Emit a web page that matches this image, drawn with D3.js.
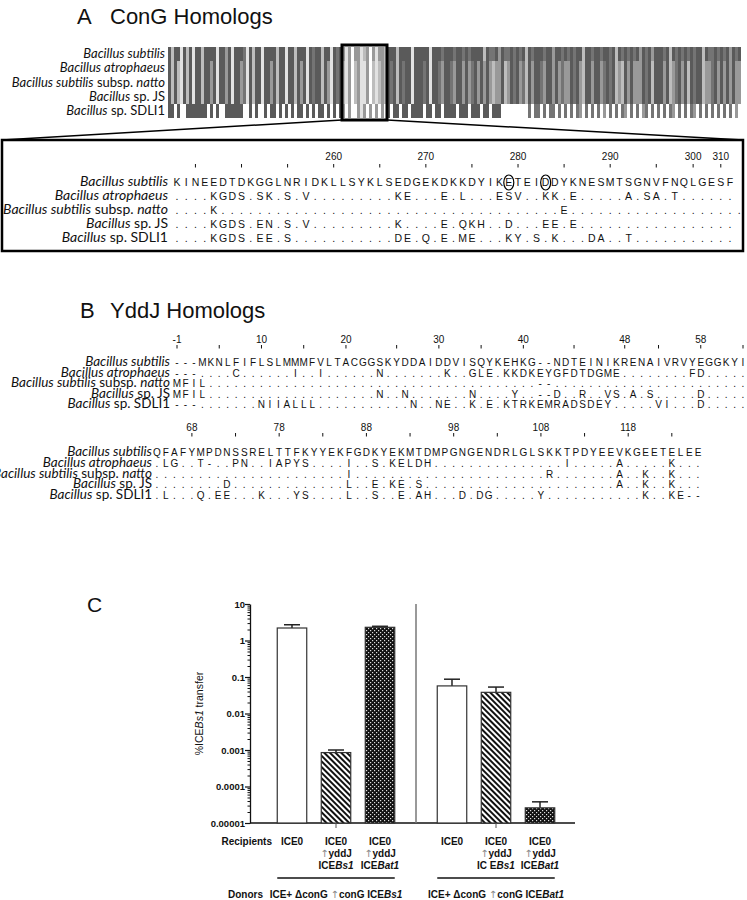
<!DOCTYPE html>
<html>
<head>
<meta charset="utf-8">
<script src="https://cdn.jsdelivr.net/npm/d3@7"></script>
<style>
body { margin: 0; background: #fff; }
text { font-family: "Liberation Sans", Arial, sans-serif; fill: #111; }
.lab { font-family: Lato, "Noto Sans", sans-serif; white-space: pre; }
.seq { font-size: 10px; text-anchor: middle; }
.num { font-size: 10px; text-anchor: middle; }
.ctext { font-size: 10px; font-weight: bold; white-space: pre; }
</style>
</head>
<body>
<div id="chart"></div>
<script>

var width = 747
var height = 900

// species names, [text, italic]
var species = [
  [["Bacillus subtilis", 1]],
  [["Bacillus atrophaeus", 1]],
  [["Bacillus subtilis", 1], [" subsp. ", 0], ["natto", 1]],
  [["Bacillus", 1], [" sp. JS", 0]],
  [["Bacillus", 1], [" sp. SDLI1", 0]]
];

// ConG overview barcode, one char per column, 0 = white .. 5 = dark grey
var barcodeSubtilis = ["5255152515","5255551553","5155541525","5155552551","5525551545","52551545",
  "313033123031332",
  "5552555515","5555155545","5545545455","5525445354","4545452545","5545535545","4545525545",
  "5455452545","4545354535","5545254545","4545525445","45453545"].join("");
var barcodeMiddle = ["5252152515","5255351553","5155341525","5155352551","5525351545","52531545",
  "213023113021232",
  "5452545515","5545155435","5435535345","3535323352","3545342535","5435535343","3545325535",
  "5345452325","3533354525","5535234535","2545523345","35353533"].join("");
var barcodeSDLI1 = ["5505005555","5550505005","5555500505","0050550505","0505505050","55050505",
  "303003130303030",
  "5055055055","5505505505","5550555055","5055055500","0000000404","4040440404","0404304040",
  "4030404043","0404034040","4040430404","0430404040","40404030"].join("");
var zoomStart = 58, zoomEnd = 73;   // columns inside the black box

// ConG zoomed alignment
var congSeqs = [
  "KINEEDTDKGGLNRIDKLLSYKLSEDGEKDKKDYIKETEIDDYKNESMTSGNVFNQLGESF",
  "....KGDS.SK.S.V.........KE...E.L...ESV..KK.E.....A.SA.T......",
  "....K.....................................E...................",
  "....KGDS.EN.S.V.........K....E.QKH..D...EE.E.................",
  "....KGDS.EE.S...........DE.Q.E.ME...KY.S.K...DA..T..........."
];
var congTickLabels = ["260", "270", "280", "290", "300", "310"];
var congTickCols = [18, 28, 38, 48, 57, 60];
var congMinorCols = [3, 8, 13, 23, 33, 43, 53];
var congCircled = [37, 41];

// YddJ alignment, first block
var yddjSeqs1 = [
  "---MKNLFIFLSLMMMFVLTACGGSKYDDAIDDVISQYKEHKG--NDTEINIKRENAIVRVYEGGKYI",
  "---....C......I..I......N.......K..GLE.KKDKEYGFDTDGME........FD.....",
  "MFIL.......................................--.......................",
  "MFIL....................N..N.......N....Y..--D..R..VS.A.S.....D.....",
  "---.......NIIALLL...........N..NE..K.E.KTRKEMRADSDEY.....VI...D....."
];
var yddjTickLabels1 = ["-1", "10", "20", "30", "40", "48", "58"];
var yddjTickCols1 = [1, 11, 21, 32, 42, 54, 63];
var yddjMinorCols1 = [6, 16, 27, 37, 48, 58, 68];

// YddJ alignment, second block
var yddjSeqs2 = [
  "QFAFYMPDNSSRELTTFKYYEKFGDKYEKMTDMPGNGENDRLGLSKKTPDYEEVKGEETELEE",
  ".LG..T-..PN..IAPYS....I..S.KELDH...............I.....A.....K...",
  "......................I......................R.......A..K..K...",
  "........D.............L..E.KE.S......................A..K..K...",
  ".L...Q.EE...K...YS....L..S..E.AH...D.DG.....Y...........K..KE--"
];
var yddjTickLabels2 = ["68", "78", "88", "98", "108", "118"];
var yddjTickCols2 = [5, 15, 25, 35, 45, 55];
var yddjMinorCols2 = [10, 20, 30, 40, 50, 60];

// panel C: % ICEBs1 transfer
var donors = ["ICE+ \u0394conG \u2191conG ICE*Bs1*", "ICE+ \u0394conG \u2191conG ICE*Bat1*"];
var recipients = ["ICE0", "ICE0|\u2191yddJ|ICE*Bs1*", "ICE0|\u2191yddJ|ICE*Bat1*",
                  "ICE0", "ICE0|\u2191yddJ|IC E*Bs1*", "ICE0|\u2191yddJ|ICE*Bat1*"];
var transferMean = [2.2, 0.00085, 2.3, 0.057, 0.038, 0.000026];
var transferSem = [0.5, 0.00015, 0.15, 0.03, 0.015, 0.000012];
var barFill = ["url(#open)", "url(#hatch)", "url(#dots)", "url(#open)", "url(#hatch)", "url(#dots)"];
var yTicks = [1e-5, 1e-4, 1e-3, 1e-2, 1e-1, 1, 10];
var yTickLabels = ["0.00001", "0.0001", "0.001", "0.01", "0.1", "1", "10"];

var grays = { "0": "#ffffff", "1": "#e2e2e2", "2": "#bdbdbd", "3": "#999999", "4": "#747474", "5": "#5a5a5a" };

var svg = d3.select("#chart").append("svg")
    .attr("width", width)
    .attr("height", height);

var defs = svg.append("defs");
defs.append("pattern").attr("id", "open").attr("width", 4).attr("height", 4)
    .attr("patternUnits", "userSpaceOnUse")
  .append("rect").attr("width", 4).attr("height", 4).attr("fill", "#fff");
var hatch = defs.append("pattern").attr("id", "hatch").attr("width", 4).attr("height", 4)
    .attr("patternUnits", "userSpaceOnUse").attr("patternTransform", "rotate(-45)");
hatch.append("rect").attr("width", 4).attr("height", 4).attr("fill", "#fff");
hatch.append("rect").attr("width", 2).attr("height", 4).attr("fill", "#111");
var dots = defs.append("pattern").attr("id", "dots").attr("width", 4).attr("height", 4)
    .attr("patternUnits", "userSpaceOnUse");
dots.append("rect").attr("width", 4).attr("height", 4).attr("fill", "#111");
dots.append("rect").attr("x", 0).attr("y", 0).attr("width", 1.2).attr("height", 1.2).attr("fill", "#ddd");
dots.append("rect").attr("x", 2).attr("y", 2).attr("width", 1.2).attr("height", 1.2).attr("fill", "#ddd");

function speciesLabel(g, x, y, parts, size) {
  var t = g.append("text").attr("class", "lab").attr("x", x).attr("y", y)
      .attr("text-anchor", "end").style("font-size", size + "px");
  parts.forEach(function(p) {
    t.append("tspan").text(p[0]).style("font-style", p[1] ? "italic" : "normal");
  });
}

function drawAlignment(g, seqs, x, rowY, labelX, labelSize, seqSize) {
  seqs.forEach(function(s, r) {
    speciesLabel(g, labelX, rowY(r), species[r], labelSize);
    g.append("g").selectAll("text")
      .data(s.split(""))
      .enter().append("text")
        .attr("class", "seq")
        .style("font-size", seqSize + "px")
        .attr("x", function(d, i) { return x(i + 1); })
        .attr("y", rowY(r))
        .text(function(d) { return d; });
  });
}

function drawRuler(g, x, labels, cols, minor, yText, yTick) {
  g.append("g").selectAll("text")
    .data(labels)
    .enter().append("text")
      .attr("class", "num")
      .attr("x", function(d, i) { return x(cols[i]); })
      .attr("y", yText)
      .text(function(d) { return d; });
  g.append("g").selectAll("line")
    .data(cols.concat(minor))
    .enter().append("line")
      .attr("x1", function(d) { return x(d); })
      .attr("x2", function(d) { return x(d); })
      .attr("y1", yTick)
      .attr("y2", yTick + 3.5)
      .attr("stroke", "#111")
      .attr("stroke-width", 1);
}

/* ---------- A  ConG homologs ---------- */

var gA = svg.append("g");
gA.append("text").attr("x", 77).attr("y", 24).style("font-size", "22px").text("A");
gA.append("text").attr("x", 110).attr("y", 24).style("font-size", "22px").text("ConG Homologs");

var barcodeRows = [barcodeSubtilis, barcodeMiddle, barcodeMiddle, barcodeMiddle, barcodeSDLI1];
var bcX = d3.scaleLinear().domain([0, barcodeSubtilis.length]).range([168, 741]);
var bcY = d3.scaleBand().domain(d3.range(5)).range([47, 118]);

barcodeRows.forEach(function(s, r) {
  gA.append("g").selectAll("rect")
    .data(s.split(""))
    .enter().append("rect")
      .attr("x", function(d, i) { return bcX(i); })
      .attr("width", bcX(1) - bcX(0) + 0.4)
      .attr("y", bcY(r))
      .attr("height", bcY.bandwidth() + 0.4)
      .attr("fill", function(d) { return grays[d]; })
      .attr("shape-rendering", "crispEdges");
  speciesLabel(gA, 165, bcY(r) + bcY.bandwidth() / 2 + 4, species[r], 13);
});

var boxL = bcX(zoomStart), boxR = bcX(zoomEnd);
gA.append("rect").attr("x", boxL).attr("y", 45).attr("width", boxR - boxL).attr("height", 75)
    .attr("fill", "none").attr("stroke", "#000").attr("stroke-width", 3);
gA.append("line").attr("x1", boxL).attr("y1", 120).attr("x2", 2).attr("y2", 140)
    .attr("stroke", "#000").attr("stroke-width", 1.5);
gA.append("line").attr("x1", boxR).attr("y1", 120).attr("x2", 743).attr("y2", 140)
    .attr("stroke", "#000").attr("stroke-width", 1.5);
gA.append("rect").attr("x", 2).attr("y", 140).attr("width", 741).attr("height", 111)
    .attr("fill", "none").attr("stroke", "#000").attr("stroke-width", 2.5);

var congX = d3.scaleLinear().domain([1, congSeqs[0].length]).range([177, 730]);
var congY = d3.scalePoint().domain(d3.range(5)).range([186, 242]);
drawRuler(gA, congX, congTickLabels, congTickCols, congMinorCols, 160, 164);
drawAlignment(gA, congSeqs, congX, congY, 168, 14, 10.5);
gA.append("g").selectAll("ellipse")
  .data(congCircled)
  .enter().append("ellipse")
    .attr("cx", function(d) { return congX(d); })
    .attr("cy", congY(0) - 3.5)
    .attr("rx", 5)
    .attr("ry", 7.5)
    .attr("fill", "none")
    .attr("stroke", "#000")
    .attr("stroke-width", 1.2);

/* ---------- B  YddJ homologs ---------- */

var gB = svg.append("g");
gB.append("text").attr("x", 80).attr("y", 318).style("font-size", "22px").text("B");
gB.append("text").attr("x", 110).attr("y", 318).style("font-size", "22px").text("YddJ Homologs");

var b1X = d3.scaleLinear().domain([1, yddjSeqs1[0].length]).range([177, 743]);
var b1Y = d3.scalePoint().domain(d3.range(5)).range([366, 408]);
drawRuler(gB, b1X, yddjTickLabels1, yddjTickCols1, yddjMinorCols1, 343, 345);
drawAlignment(gB, yddjSeqs1, b1X, b1Y, 170, 13.5, 10);

var b2X = d3.scaleLinear().domain([1, yddjSeqs2[0].length]).range([157, 698]);
var b2Y = d3.scalePoint().domain(d3.range(5)).range([456, 499]);
drawRuler(gB, b2X, yddjTickLabels2, yddjTickCols2, yddjMinorCols2, 431, 433);
drawAlignment(gB, yddjSeqs2, b2X, b2Y, 152, 13.5, 10);

/* ---------- C  transfer ---------- */

var gC = svg.append("g");
gC.append("text").attr("x", 87).attr("y", 612).style("font-size", "21px").text("C");

var y = d3.scaleLog().domain([1e-5, 10]).range([823, 604]);
var gx = d3.scaleBand().domain([0, 1]).range([256, 576]);
var bx = d3.scaleBand().domain([0, 1, 2]).range([0, gx.bandwidth()])
    .paddingInner(0.33).paddingOuter(0.483);
function barX(i) { return gx(Math.floor(i / 3)) + bx(i % 3); }

var yAxis = gC.append("g").attr("transform", "translate(250,0)")
    .call(d3.axisLeft(y).tickValues(yTicks)
      .tickFormat(function(d, i) { return yTickLabels[i]; })
      .tickSize(5).tickSizeOuter(0));
yAxis.selectAll("text").style("font-size", "9.5px").style("font-weight", "bold")
    .style("font-family", "'Liberation Sans', Arial, sans-serif").attr("x", -5);
yAxis.select(".domain").attr("stroke", "#111").attr("stroke-width", 1.3);
yAxis.selectAll(".tick line").attr("stroke", "#111").attr("stroke-width", 1.2);

gC.append("g").attr("transform", "translate(250,0)")
    .call(d3.axisLeft(y).tickValues(y.ticks().filter(function(d) { return yTicks.indexOf(d) < 0; }))
      .tickFormat("").tickSize(2.5).tickSizeOuter(0))
  .call(function(a) { a.select(".domain").remove(); })
  .selectAll("line").attr("stroke", "#111");

gC.append("line").attr("x1", 250).attr("x2", 575).attr("y1", y(1e-5)).attr("y2", y(1e-5))
    .attr("stroke", "#111").attr("stroke-width", 1.5);
gC.append("line").attr("x1", gx(1)).attr("x2", gx(1)).attr("y1", y(10)).attr("y2", y(1e-5))
    .attr("stroke", "#777").attr("stroke-width", 1.5);

var yt = gC.append("text")
    .attr("transform", "translate(203," + ((y(10) + y(1e-5)) / 2) + ") rotate(-90)")
    .attr("text-anchor", "middle").style("font-size", "10.5px");
yt.append("tspan").text("%ICE");
yt.append("tspan").text("Bs1").style("font-style", "italic");
yt.append("tspan").text(" transfer");

var bars = gC.append("g").selectAll("g")
    .data(transferMean)
    .enter().append("g");

bars.append("line")
    .attr("x1", function(d, i) { return barX(i) + bx.bandwidth() / 2; })
    .attr("x2", function(d, i) { return barX(i) + bx.bandwidth() / 2; })
    .attr("y1", function(d) { return y(d); })
    .attr("y2", function(d, i) { return y(d + transferSem[i]); })
    .attr("stroke", "#222").attr("stroke-width", 1.5);
bars.append("line")
    .attr("x1", function(d, i) { return barX(i) + bx.bandwidth() / 2 - 8; })
    .attr("x2", function(d, i) { return barX(i) + bx.bandwidth() / 2 + 8; })
    .attr("y1", function(d, i) { return y(d + transferSem[i]); })
    .attr("y2", function(d, i) { return y(d + transferSem[i]); })
    .attr("stroke", "#222").attr("stroke-width", 1.5);
bars.append("rect")
    .attr("x", function(d, i) { return barX(i); })
    .attr("y", function(d) { return y(d); })
    .attr("width", bx.bandwidth())
    .attr("height", function(d) { return y(1e-5) - y(d); })
    .attr("fill", function(d, i) { return barFill[i]; })
    .attr("stroke", "#333")
    .attr("stroke-width", 1.2);

// small ticks below the middle bar of each group
gC.append("g").selectAll("line")
  .data([1, 4])
  .enter().append("line")
    .attr("x1", function(d) { return barX(d) + bx.bandwidth() / 2; })
    .attr("x2", function(d) { return barX(d) + bx.bandwidth() / 2; })
    .attr("y1", y(1e-5))
    .attr("y2", y(1e-5) + 5)
    .attr("stroke", "#555");

function richText(t, s) {
  s.split("*").forEach(function(seg, k) {
    seg.split("\u2191").forEach(function(piece, m) {
      if (m > 0) t.append("tspan").text("\u2191").attr("fill", "#888")
          .style("font-weight", "normal").style("font-family", "'DejaVu Sans', sans-serif");
      if (piece) t.append("tspan").text(piece).style("font-style", k % 2 ? "italic" : "normal");
    });
  });
}

var lineY = [845, 857, 869];
gC.append("text").attr("class", "ctext").attr("x", 272).attr("y", lineY[0])
    .attr("text-anchor", "end").text("Recipients");
recipients.forEach(function(r, i) {
  r.split("|").forEach(function(line, k) {
    var t = gC.append("text").attr("class", "ctext")
        .attr("x", barX(i) + bx.bandwidth() / 2).attr("y", lineY[k])
        .attr("text-anchor", "middle");
    richText(t, line);
  });
});

gC.append("g").selectAll("line")
  .data(donors)
  .enter().append("line")
    .attr("x1", function(d, g) { return barX(g * 3); })
    .attr("x2", function(d, g) { return barX(g * 3 + 2) + bx.bandwidth(); })
    .attr("y1", 878).attr("y2", 878)
    .attr("stroke", "#111").attr("stroke-width", 1.3);

gC.append("text").attr("class", "ctext").attr("x", 228).attr("y", 898).text("Donors");
donors.forEach(function(d, g) {
  var t = gC.append("text").attr("class", "ctext")
      .attr("x", gx(g) + gx.bandwidth() / 2).attr("y", 898)
      .attr("text-anchor", "middle");
  richText(t, d);
});

</script>
</body>
</html>
